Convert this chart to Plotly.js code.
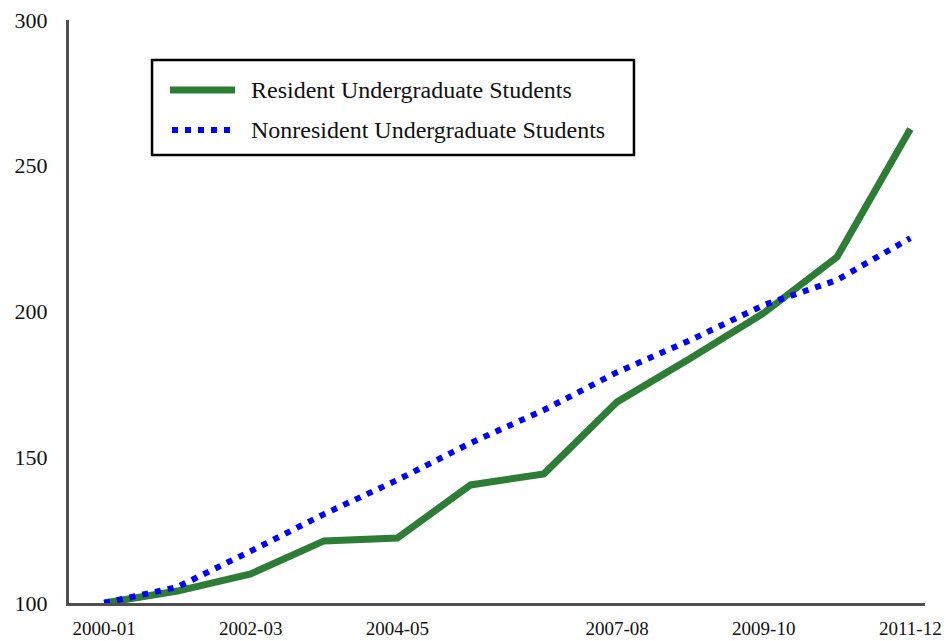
<!DOCTYPE html>
<html>
<head>
<meta charset="utf-8">
<script src="https://cdn.plot.ly/plotly-3.0.1.min.js"></script>
<style>html,body{margin:0;padding:0;background:#fff;}#chart{width:946px;height:641px;}</style>
</head>
<body>
<div id="chart"></div>
<script>
const years = ["2000-01","2001-02","2002-03","2003-04","2004-05","2005-06","2006-07","2007-08","2008-09","2009-10","2010-11","2011-12"];
const tickLabels = ["2000-01","2002-03","2004-05","2007-08","2009-10","2011-12"];
const resident = [100, 104.1, 110, 121.3, 122.3, 140.5, 144.3, 169, 184, 199.5, 218.7, 262.6];
const nonresident = [100, 105.5, 117.8, 130.5, 142.2, 154.9, 166.2, 179.2, 190.2, 202.2, 210.8, 225.2];
const yTicks = [100, 150, 200, 250, 300];
const seriesNames = ["Resident Undergraduate Students", "Nonresident Undergraduate Students"];
const seriesColors = ["#2E7D37", "#0000FF"];

const font = "Liberation Serif";

const traces = [
  {x: years, y: resident, type: "scatter", mode: "lines", name: seriesNames[0],
   line: {color: seriesColors[0], width: 7}},
  {x: years, y: nonresident, type: "scatter", mode: "lines", name: seriesNames[1],
   line: {color: seriesColors[1], width: 6, dash: "6px,7px"}}
];

// manual legend (paper coordinates)
const legendShapes = [
  {type: "rect", xref: "paper", yref: "paper", x0: 0.0970, x1: 0.6600, y0: 0.7684, y1: 0.9314,
   line: {color: "#000", width: 2.5}, fillcolor: "#fff", layer: "above"},
  {type: "line", xref: "paper", yref: "paper", x0: 0.1180, x1: 0.1939, y0: 0.8799, y1: 0.8799,
   line: {color: seriesColors[0], width: 7}},
  {type: "line", xref: "paper", yref: "paper", x0: 0.1203, x1: 0.1904, y0: 0.8113, y1: 0.8113,
   line: {color: seriesColors[1], width: 6, dash: "6px,7px"}}
];
const legendText = [
  {xref: "paper", yref: "paper", x: 0.2103, y: 0.8799, xanchor: "left", yanchor: "middle", showarrow: false,
   text: seriesNames[0], font: {family: font, size: 24, color: "#111"}},
  {xref: "paper", yref: "paper", x: 0.2103, y: 0.8113, xanchor: "left", yanchor: "middle", showarrow: false,
   text: seriesNames[1], font: {family: font, size: 24, color: "#111"}}
];

const layout = {
  width: 946, height: 641,
  margin: {l: 69, r: 21, t: 20, b: 38},
  paper_bgcolor: "#fff", plot_bgcolor: "#fff",
  font: {family: font, color: "#111"},
  showlegend: false,
  shapes: legendShapes,
  annotations: legendText,
  xaxis: {type: "category", range: [-0.48, 11.2], tickmode: "array", tickvals: tickLabels, ticktext: tickLabels,
    showgrid: false, zeroline: false, showline: true, linecolor: "#505050", linewidth: 3,
    ticks: "outside", ticklen: 6, tickcolor: "rgba(0,0,0,0)",
    tickfont: {family: font, size: 19, color: "#111"}},
  yaxis: {range: [100, 300], tickmode: "array", tickvals: yTicks,
    showgrid: false, zeroline: false, showline: true, linecolor: "#505050", linewidth: 3,
    ticks: "outside", ticklen: 14, tickcolor: "rgba(0,0,0,0)",
    tickfont: {family: font, size: 22, color: "#111"}}
};

Plotly.newPlot("chart", traces, layout, {displayModeBar: false, staticPlot: true});
</script>
</body>
</html>
